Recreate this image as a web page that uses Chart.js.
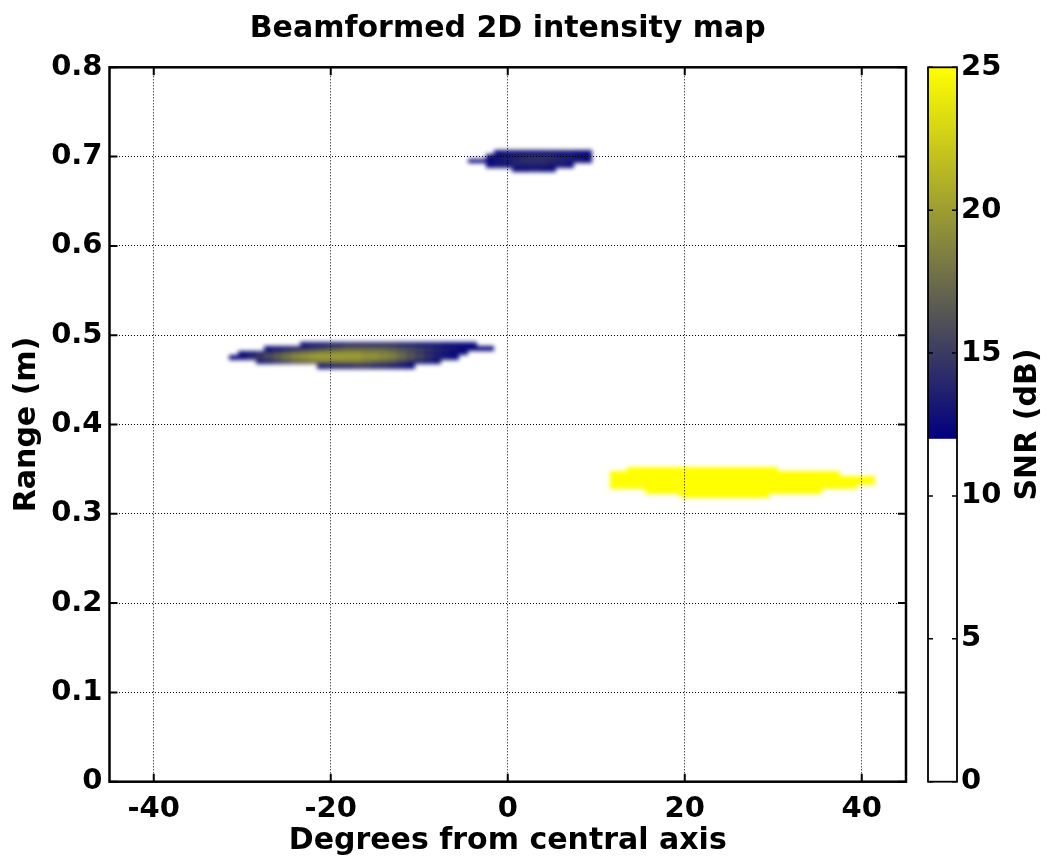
<!DOCTYPE html>
<html>
<head>
<meta charset="utf-8">
<title>Beamformed 2D intensity map</title>
<script src="https://cdn.jsdelivr.net/npm/chart.js@4.4.1/dist/chart.umd.min.js"></script>
<style>
  html, body { margin: 0; padding: 0; background: #fff; }
  #map { display: block; }
</style>
</head>
<body>
<canvas id="map" width="1050" height="865"></canvas>
<script>
const chartTitle = "Beamformed 2D intensity map";
const xTicks = [-40, -20, 0, 20, 40];
const yTicks = [0, 0.1, 0.2, 0.3, 0.4, 0.5, 0.6, 0.7, 0.8];
const yTickLabels = ["0", "0.1", "0.2", "0.3", "0.4", "0.5", "0.6", "0.7", "0.8"];
const snrTicks = [0, 5, 10, 15, 20, 25];

// colour map: nothing below the threshold, then navy -> yellow
const snrThreshold = 12;
const snrMax = 25;
const lowColor = [0, 0, 128];
const highColor = [255, 255, 0];

// one cell = 1 degree x 0.005 m
const cellWidth = 1;
const cellHeight = 0.005;

// target near 0.7 m (rows: range, first angle, SNR per degree)
const nearRange = [0.705, 0.700, 0.695, 0.690, 0.685];
const nearStart = [-1, -2, -4, -2, 1];
const nearSnr = [
  [12.5, 13, 13, 13, 13, 13, 13, 13, 13, 12.5, 12.5],
  [12.5, 13, 13.5, 13.5, 14, 14, 14, 14, 13.5, 13.5, 13, 12.5],
  [12.2, 12.2, 12.5, 13, 13.5, 14, 14.5, 14.5, 14.5, 14, 14, 13.5, 13, 12.5],
  [12.5, 13, 13, 13.5, 13.5, 13.5, 13.5, 13, 13, 12.5],
  [12.5, 12.5, 13, 12.5, 12.5],
];

// target near 0.48 m
const midRange = [0.490, 0.485, 0.480, 0.475, 0.470, 0.465];
const midStart = [-23, -27, -30, -31, -28, -21];
const midSnr = [
  [12.5, 13, 13, 13.5, 13.5, 14, 14, 14, 14, 14, 14, 13.5, 13.5, 13, 13, 13, 12.5, 12.5, 12.5, 12.5],
  [12.5, 13, 13.5, 14, 14.5, 15, 15.5, 16, 16.5, 17, 17, 17, 17, 17, 16.5, 16, 15.5, 15, 14.5, 14, 13.5, 13, 12.5, 12.5, 12.5, 12.5],
  [12.5, 13, 14, 15, 16, 17, 18, 18.5, 19, 19.5, 19.5, 19.5, 19.5, 19.5, 19, 19, 18.5, 18, 17, 16, 15, 14, 13.5, 13, 12.5, 12.5],
  [12.5, 13, 14, 15, 16, 17, 18, 19, 19.5, 20, 20, 20, 20, 20, 20, 19.5, 19.5, 19, 18.5, 17.5, 16.5, 15.5, 14.5, 13.5, 13, 12.5],
  [13, 13.5, 14.5, 15.5, 16.5, 17, 17.5, 18, 18, 18, 18, 18, 17.5, 17, 16.5, 16, 15, 14, 13.5, 13, 12.5],
  [13, 13.5, 14, 14, 14.5, 14.5, 14, 14, 13.5, 13, 12.5],
];

// target near 0.335 m (saturated)
const farRange = [0.350, 0.345, 0.340, 0.335, 0.330, 0.325, 0.320];
const farStart = [14, 12, 12, 12, 12, 16, 20];
const farSnr = [
  [25, 25.5, 26, 26.5, 27, 27, 27.5, 27.5, 27.5, 27.5, 27, 27, 26.5, 26.5, 26, 25.5, 25],
  [25, 25.5, 26, 27, 27.5, 28, 28.5, 29, 29, 29.5, 29.5, 29.5, 29.5, 29.5, 29, 29, 28.5, 28.5, 28, 27.5, 27, 26.5, 26, 25.5, 25.5, 25],
  [25.5, 26, 27, 28, 28.5, 29, 29.5, 30, 30, 30.5, 30.5, 30.5, 30.5, 30.5, 30, 30, 30, 29.5, 29.5, 29, 29, 28.5, 28, 27.5, 27, 26.5, 26, 25.5, 25.5, 25],
  [25.5, 26, 27, 28, 28.5, 29, 29.5, 30, 30.5, 30.5, 31, 31, 31, 31, 30.5, 30.5, 30, 30, 29.5, 29.5, 29, 28.5, 28.5, 28, 27.5, 27, 26.5, 26, 25.5, 25],
  [25, 25.5, 26, 27, 27.5, 28, 28.5, 29, 29.5, 29.5, 30, 30, 30, 30, 29.5, 29.5, 29, 29, 28.5, 28, 28, 27.5, 27, 26.5, 26, 25.5, 25.5, 25],
  [25, 25.5, 26, 26.5, 27, 27.5, 28, 28, 28, 28, 28, 27.5, 27.5, 27, 27, 26.5, 26, 25.5, 25.5, 25],
  [25, 25.5, 26, 26, 26.5, 26.5, 26, 26, 25.5, 25],
];

const targets = [
  { range: nearRange, start: nearStart, snr: nearSnr },
  { range: midRange, start: midStart, snr: midSnr },
  { range: farRange, start: farStart, snr: farSnr },
];

const FONT = "'DejaVu Sans', sans-serif";

function snrColor(v) {
  if (v < snrThreshold) return null;
  const t = (Math.min(v, snrMax) - snrThreshold) / (snrMax - snrThreshold);
  const c = lowColor.map((lo, i) => Math.round(lo + (highColor[i] - lo) * t));
  return `rgb(${c[0]},${c[1]},${c[2]})`;
}

const heatmapPlugin = {
  id: "heatmap",
  beforeDatasetsDraw(chart) {
    const { ctx, chartArea, scales: { x, y } } = chart;
    const off = document.createElement("canvas");
    off.width = chart.width;
    off.height = chart.height;
    const octx = off.getContext("2d");
    targets.forEach((target) => {
      target.range.forEach((r, i) => {
        const top = Math.round(y.getPixelForValue(r + cellHeight / 2));
        const bottom = Math.round(y.getPixelForValue(r - cellHeight / 2));
        target.snr[i].forEach((v, j) => {
          const deg = target.start[i] + j;
          const color = snrColor(v);
          if (!color) return;
          const left = Math.round(x.getPixelForValue(deg - cellWidth / 2));
          const right = Math.round(x.getPixelForValue(deg + cellWidth / 2));
          octx.fillStyle = color;
          octx.fillRect(left, top, right - left, bottom - top);
        });
      });
    });
    ctx.save();
    ctx.beginPath();
    ctx.rect(chartArea.left, chartArea.top, chartArea.width, chartArea.height);
    ctx.clip();
    ctx.filter = "blur(2px)";
    ctx.drawImage(off, 0, 0);
    ctx.restore();
  },
  afterDraw(chart) {
    const { ctx, chartArea, scales: { x, y, snr } } = chart;
    const { left, right, top, bottom } = chartArea;
    ctx.save();
    ctx.strokeStyle = "#000";
    ctx.fillStyle = "#000";

    // title, centred over the axes
    ctx.font = `bold 30px ${FONT}`;
    ctx.textAlign = "center";
    ctx.textBaseline = "middle";
    ctx.fillText(chartTitle, (left + right) / 2, 29);

    // ticks inside the axes box
    ctx.lineWidth = 2;
    ctx.beginPath();
    xTicks.forEach((v) => {
      const px = x.getPixelForValue(v);
      ctx.moveTo(px, bottom); ctx.lineTo(px, bottom - 8);
      ctx.moveTo(px, top); ctx.lineTo(px, top + 8);
    });
    yTicks.forEach((v) => {
      const py = y.getPixelForValue(v);
      ctx.moveTo(left, py); ctx.lineTo(left + 8, py);
      ctx.moveTo(right, py); ctx.lineTo(right - 8, py);
    });
    ctx.stroke();

    ctx.lineWidth = 2.5;
    ctx.strokeRect(left, top, right - left, bottom - top);

    // colour bar
    const barLeft = right + 22;
    const barRight = right + 51;
    const yLow = snr.getPixelForValue(snrThreshold);
    const yHigh = snr.getPixelForValue(snrMax);
    ctx.fillStyle = "#fff";
    ctx.fillRect(barLeft, yLow, barRight - barLeft, snr.getPixelForValue(0) - yLow);
    const grad = ctx.createLinearGradient(0, yLow, 0, yHigh);
    grad.addColorStop(0, snrColor(snrThreshold));
    grad.addColorStop(1, snrColor(snrMax));
    ctx.fillStyle = grad;
    ctx.fillRect(barLeft, yHigh, barRight - barLeft, yLow - yHigh);

    ctx.lineWidth = 1.5;
    ctx.beginPath();
    snrTicks.forEach((v) => {
      const py = snr.getPixelForValue(v);
      ctx.moveTo(barLeft, py); ctx.lineTo(barLeft + 5, py);
      ctx.moveTo(barRight, py); ctx.lineTo(barRight - 5, py);
    });
    ctx.stroke();
    ctx.lineWidth = 1.8;
    ctx.strokeRect(barLeft, yHigh, barRight - barLeft, snr.getPixelForValue(0) - yHigh);

    // colour bar title, reading bottom to top
    ctx.translate(1028, (top + bottom) / 2);
    ctx.rotate(-Math.PI / 2);
    ctx.fillStyle = "#000";
    ctx.font = `bold 30px ${FONT}`;
    ctx.fillText("SNR (dB)", 0, 0);
    ctx.restore();
  },
};

Chart.defaults.font.family = FONT;
Chart.defaults.font.weight = "bold";
Chart.defaults.color = "#000";

const gridLines = {
  color: "#000",
  lineWidth: 1,
  drawTicks: false,
  z: 1,
};

new Chart(document.getElementById("map"), {
  type: "scatter",
  data: { datasets: [] },
  plugins: [heatmapPlugin],
  options: {
    responsive: false,
    animation: false,
    devicePixelRatio: 1,
    layout: { padding: { top: 67.3, left: 0, right: 0, bottom: 0 } },
    plugins: {
      legend: { display: false },
      tooltip: { enabled: false },
      title: { display: false },
    },
    scales: {
      x: {
        type: "linear",
        position: "bottom",
        min: -45,
        max: 45,
        afterBuildTicks: (scale) => { scale.ticks = xTicks.map((v) => ({ value: v })); },
        afterFit: (scale) => { scale.height = 83.3; },
        ticks: { font: { size: 29 }, padding: 10, maxRotation: 0 },
        grid: gridLines,
        border: { display: false, dash: [1, 2] },
        title: {
          display: true,
          text: "Degrees from central axis",
          font: { size: 30 },
          padding: { top: 0, bottom: 6 },
        },
      },
      y: {
        type: "linear",
        position: "left",
        min: 0,
        max: 0.8,
        afterBuildTicks: (scale) => { scale.ticks = yTicks.map((v) => ({ value: v })); },
        afterFit: (scale) => { scale.width = 109.5; },
        ticks: {
          font: { size: 29 },
          padding: 7,
          callback: (value, index) => yTickLabels[index],
        },
        grid: gridLines,
        border: { display: false, dash: [1, 2] },
        title: {
          display: true,
          text: "Range (m)",
          font: { size: 30 },
          padding: { top: 9, bottom: 0 },
        },
      },
      snr: {
        type: "linear",
        position: "right",
        min: 0,
        max: 25,
        afterBuildTicks: (scale) => { scale.ticks = snrTicks.map((v) => ({ value: v })); },
        afterFit: (scale) => { scale.width = 144; },
        ticks: { font: { size: 29 }, padding: 4 },
        // invisible tick marks push the labels past the colour bar
        grid: {
          display: true,
          drawOnChartArea: false,
          drawTicks: true,
          tickLength: 51,
          tickColor: "rgba(0,0,0,0)",
          color: "rgba(0,0,0,0)",
        },
        border: { display: false },
      },
    },
  },
});
</script>
</body>
</html>
